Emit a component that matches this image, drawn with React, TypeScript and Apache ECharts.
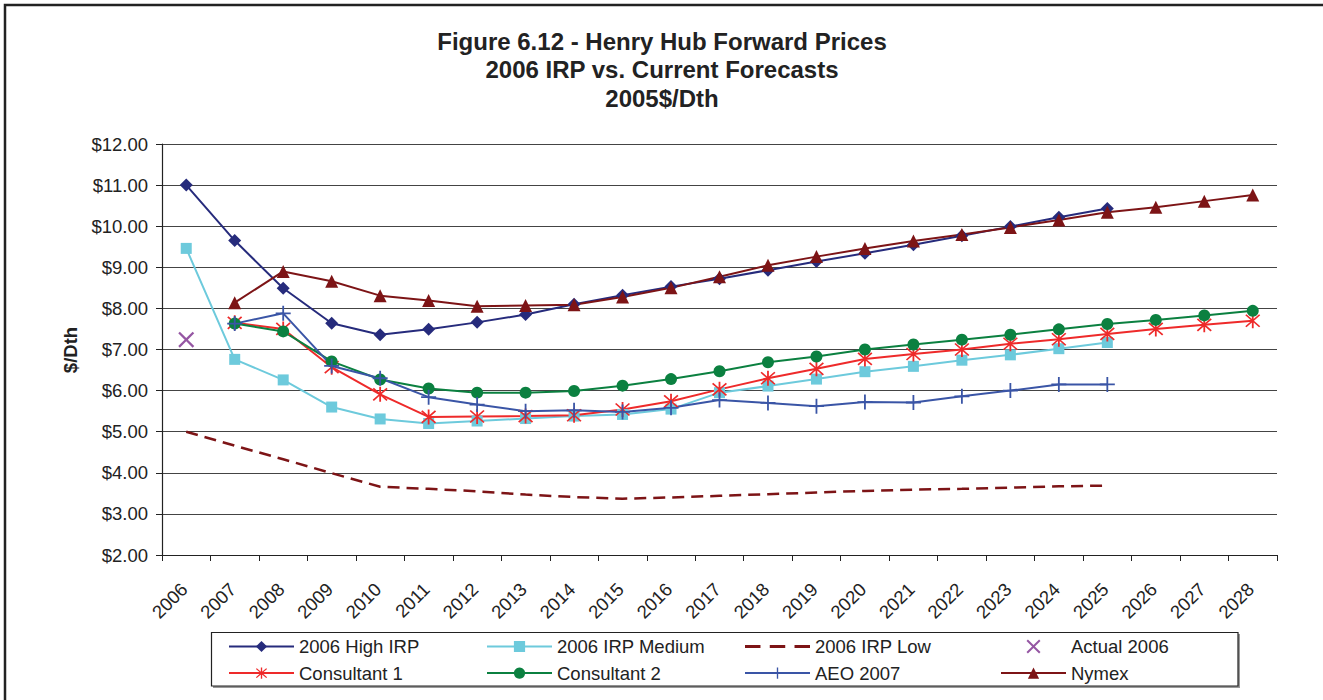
import React, { useEffect, useRef } from "react";
import * as echarts from "echarts";

const years = [
  "2006", "2007", "2008", "2009", "2010", "2011", "2012", "2013", "2014", "2015", "2016", "2017",
  "2018", "2019", "2020", "2021", "2022", "2023", "2024", "2025", "2026", "2027", "2028",
];

const highIRP = [11.0, 9.65, 8.49, 7.64, 7.36, 7.49, 7.66, 7.85, 8.1, 8.32, 8.53, 8.72, 8.93, 9.14, 9.34, 9.55, 9.77, 9.99, 10.22, 10.43, null, null, null];
const irpMedium = [9.46, 6.76, 6.26, 5.6, 5.31, 5.2, 5.26, 5.32, 5.38, 5.42, 5.55, 5.95, 6.11, 6.28, 6.46, 6.59, 6.74, 6.87, 7.02, 7.17, null, null, null];
const irpLow = [5.0, 4.66, 4.33, 3.99, 3.66, 3.61, 3.55, 3.47, 3.41, 3.37, 3.4, 3.44, 3.48, 3.52, 3.56, 3.59, 3.61, 3.64, 3.67, 3.69, null, null, null];
const actual2006 = [7.24, null, null, null, null, null, null, null, null, null, null, null, null, null, null, null, null, null, null, null, null, null, null];
const consultant1 = [null, 7.65, 7.5, 6.57, 5.91, 5.36, 5.37, 5.38, 5.4, 5.54, 5.74, 6.03, 6.3, 6.53, 6.77, 6.89, 7.0, 7.14, 7.25, 7.38, 7.5, 7.6, 7.7];
const consultant2 = [null, 7.63, 7.44, 6.71, 6.27, 6.05, 5.95, 5.95, 5.99, 6.12, 6.28, 6.47, 6.69, 6.83, 7.0, 7.12, 7.24, 7.36, 7.49, 7.62, 7.72, 7.83, 7.94];
const aeo2007 = [null, 7.63, 7.88, 6.6, 6.3, 5.84, 5.66, 5.5, 5.52, 5.48, 5.58, 5.77, 5.7, 5.62, 5.72, 5.71, 5.86, 6.0, 6.15, 6.15, null, null, null];
const nymex = [null, 8.14, 8.9, 8.66, 8.31, 8.19, 8.05, 8.07, 8.09, 8.28, 8.5, 8.77, 9.05, 9.26, 9.46, 9.64, 9.8, 9.97, 10.15, 10.34, 10.46, 10.61, 10.76];

const yTicks = [2, 3, 4, 5, 6, 7, 8, 9, 10, 11, 12];

const FONT = "'Liberation Sans', Arial, sans-serif";
const X_PATH = "path://M1,0 L5,4 L9,0 L10,1 L6,5 L10,9 L9,10 L5,6 L1,10 L0,9 L4,5 L0,1 Z";
const STAR_PATH = "path://M0.8,0.6 L5,4.3 L9.2,0.6 L10,1.4 L5.8,5 L10,8.6 L9.2,9.4 L5,5.7 L0.8,9.4 L0,8.6 L4.2,5 L0,1.4 Z M4.4,0 L5.6,0 L5.6,10 L4.4,10 Z";
const PLUS_PATH = "path://M4.4,0 L5.6,0 L5.6,4.4 L10,4.4 L10,5.6 L5.6,5.6 L5.6,10 L4.4,10 L4.4,5.6 L0,5.6 L0,4.4 L4.4,4.4 Z";
const DASH_ICON = "path://M0,0 L15,0 L15,3 L0,3 Z M24,0 L39,0 L39,3 L24,3 Z M48,0 L63,0 L63,3 L48,3 Z";

function lineSeries(name: string, data: (number | null)[], color: string, symbol: string, symbolSize: number, extra: any = {}) {
  return {
    name,
    type: "line",
    data,
    symbol,
    symbolSize,
    showSymbol: true,
    showAllSymbol: true,
    connectNulls: false,
    itemStyle: { color },
    lineStyle: { color, width: 2 },
    emphasis: { disabled: true },
    ...extra,
  };
}

export default function App() {
  const ref = useRef<HTMLDivElement>(null);
  useEffect(() => {
    if (!ref.current) return;
    const chart = echarts.init(ref.current, undefined, { renderer: "svg" });
    const legendBase = {
      orient: "vertical",
      top: 636.5,
      padding: 0,
      itemWidth: 65,
      itemHeight: 14,
      itemGap: 6.6,
      textStyle: { fontSize: 18.5, color: "#222", fontFamily: FONT, lineHeight: 20 },
      selectedMode: false,
    };
    chart.setOption({
      animation: false,
      backgroundColor: "#fff",
      textStyle: { fontFamily: FONT },
      grid: { left: 162, top: 144, right: 46, bottom: 145, containLabel: false },
      xAxis: {
        type: "category",
        data: years,
        boundaryGap: true,
        axisLine: { show: true, lineStyle: { color: "#222", width: 1.2 } },
        axisTick: { show: true, length: 6, interval: 0, lineStyle: { color: "#222" } },
        axisLabel: { interval: 0, rotate: 45, margin: 29, padding: [0, 3, 0, 0], fontSize: 18.5, color: "#222", fontFamily: FONT },
        splitLine: { show: false },
      },
      yAxis: {
        type: "value",
        min: yTicks[0],
        max: yTicks[yTicks.length - 1],
        interval: 1,
        axisLine: { show: true, lineStyle: { color: "#222", width: 1.2 } },
        axisTick: { show: true, length: 6, lineStyle: { color: "#222" } },
        axisLabel: { margin: 14, fontSize: 18.5, color: "#222", fontFamily: FONT, formatter: (v: number) => "$" + v.toFixed(2) },
        splitLine: { show: true, lineStyle: { color: "#444", width: 1.2 } },
      },
      legend: [
        { ...legendBase, left: 228, data: ["2006 High IRP", "Consultant 1"] },
        { ...legendBase, left: 486, data: ["2006 IRP Medium", "Consultant 2"] },
        { ...legendBase, left: 744, data: [{ name: "2006 IRP Low", icon: DASH_ICON, itemStyle: { color: "#7D1416" } }, "AEO 2007"] },
        { ...legendBase, left: 1000, data: ["Actual 2006", "Nymex"] },
      ],
      graphic: [
        { type: "rect", shape: { x: 5, y: 5, width: 1400, height: 800 }, style: { fill: "none", stroke: "#222", lineWidth: 2.5 }, silent: true },
        { type: "rect", shape: { x: 213, y: 634, width: 1027, height: 54 }, style: { fill: "#999" }, silent: true, z: -1 },
        { type: "rect", shape: { x: 211.5, y: 632.5, width: 1026.5, height: 53.5 }, style: { fill: "#fff", stroke: "#222", lineWidth: 1.2 }, silent: true, z: 0 },
        {
          type: "text",
          x: 662,
          y: 27,
          style: {
            text: "Figure 6.12 - Henry Hub Forward Prices\n2006 IRP vs. Current Forecasts\n2005$/Dth",
            fontSize: 24,
            fontWeight: "bold",
            lineHeight: 28.5,
            fill: "#222",
            fontFamily: FONT,
            textAlign: "center",
            textVerticalAlign: "top",
          },
          silent: true,
        },
        {
          type: "text",
          x: 70,
          y: 350,
          rotation: Math.PI / 2,
          style: { text: "$/Dth", fontSize: 18.5, fontWeight: "bold", fill: "#222", fontFamily: FONT, textAlign: "center", textVerticalAlign: "middle" },
          silent: true,
        },
      ],
      series: [
        lineSeries("2006 High IRP", highIRP, "#262B7C", "diamond", 13),
        lineSeries("2006 IRP Medium", irpMedium, "#6DCADC", "rect", 11),
        lineSeries("2006 IRP Low", irpLow, "#7D1416", "none", 1, { lineStyle: { color: "#7D1416", width: 2.5, type: [12, 7] } }),
        {
          name: "Actual 2006",
          type: "scatter",
          data: actual2006,
          symbol: X_PATH,
          symbolSize: 16,
          itemStyle: { color: "#7B2C8C" },
          emphasis: { disabled: true },
        },
        lineSeries("Consultant 1", consultant1, "#EE2A2A", STAR_PATH, 15),
        lineSeries("Consultant 2", consultant2, "#0B8040", "circle", 12),
        lineSeries("AEO 2007", aeo2007, "#3A55A6", PLUS_PATH, 15),
        lineSeries("Nymex", nymex, "#7D1416", "triangle", 13),
      ],
    });
    return () => chart.dispose();
  }, []);
  return <div ref={ref} style={{ position: "fixed", left: 0, top: 0, width: 1323, height: 700 }} />;
}
